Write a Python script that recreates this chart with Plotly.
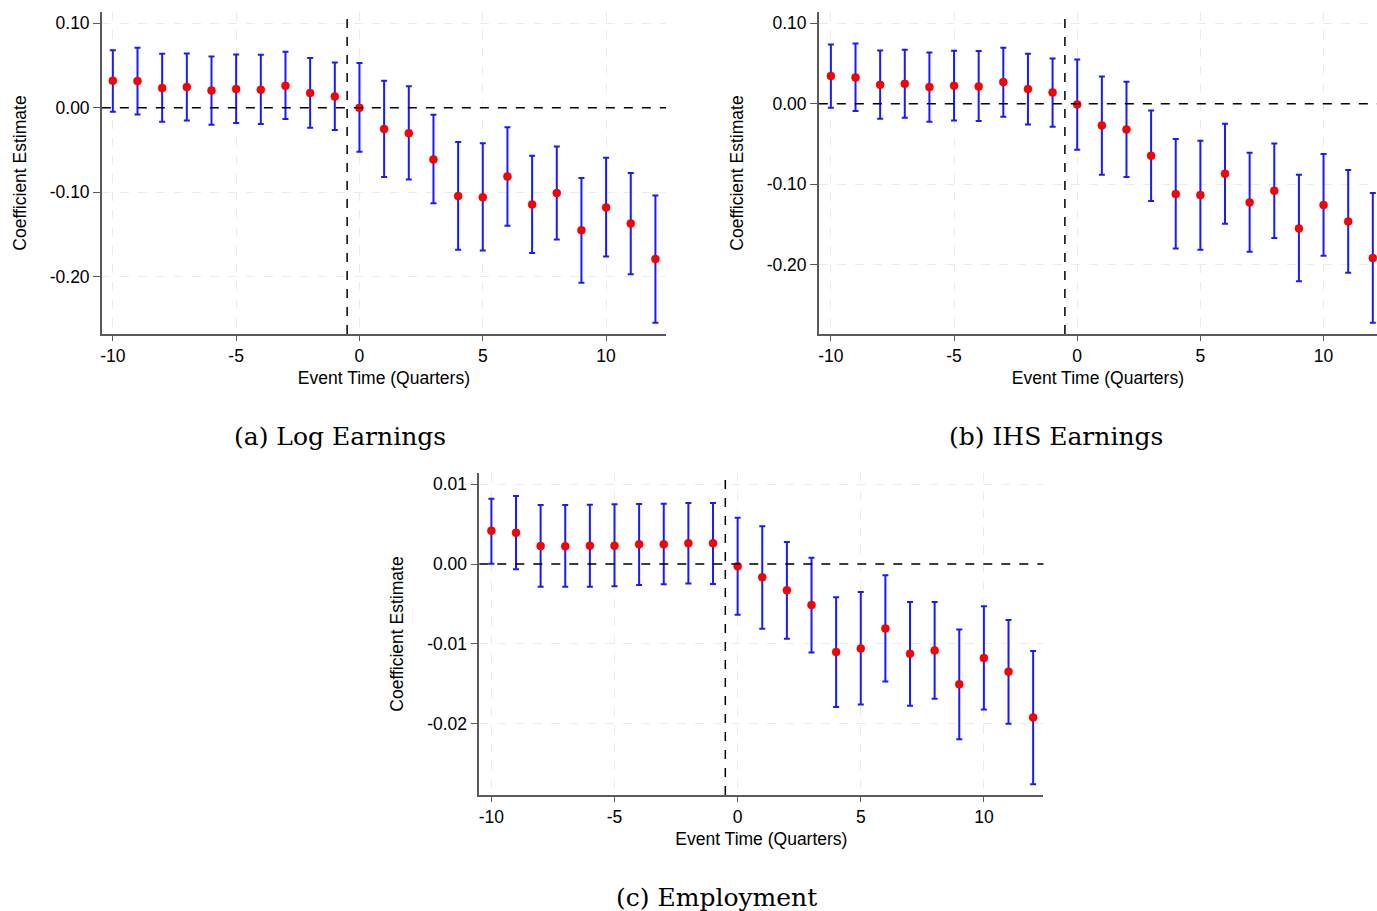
import plotly.graph_objects as go

event_time = list(range(-10, 13))

# (a) Log Earnings
a_coef = [0.032, 0.0316, 0.0233, 0.0245, 0.0205, 0.0221, 0.0213, 0.026, 0.0174, 0.0134, 0.0,
          -0.0252, -0.030, -0.0611, -0.1045, -0.106, -0.0813, -0.1144, -0.101, -0.145, -0.118, -0.137, -0.179]
a_hi = [0.068, 0.071, 0.064, 0.0643, 0.0607, 0.0631, 0.0627, 0.0663, 0.0588, 0.0536, 0.053,
        0.032, 0.0256, -0.0083, -0.0406, -0.042, -0.0229, -0.0568, -0.0458, -0.0832, -0.0592, -0.0773, -0.1037]
a_lo = [-0.0047, -0.0079, -0.0166, -0.015, -0.0201, -0.0181, -0.0193, -0.0134, -0.0237, -0.0264, -0.052,
        -0.082, -0.085, -0.113, -0.168, -0.169, -0.1396, -0.172, -0.156, -0.207, -0.176, -0.197, -0.2544]

# (b) IHS Earnings
b_coef = [0.0344, 0.0327, 0.0236, 0.0248, 0.0207, 0.0224, 0.0215, 0.0269, 0.0182, 0.0141, -0.0008,
          -0.0269, -0.0319, -0.0646, -0.1122, -0.1135, -0.087, -0.1226, -0.108, -0.1549, -0.1259, -0.1462, -0.1917]
b_hi = [0.0737, 0.075, 0.0663, 0.0671, 0.0638, 0.0658, 0.0654, 0.0696, 0.0621, 0.0563, 0.0551,
        0.034, 0.0273, -0.0083, -0.0439, -0.046, -0.0248, -0.0609, -0.0493, -0.0882, -0.0625, -0.0824, -0.111]
b_lo = [-0.005, -0.0091, -0.0186, -0.0174, -0.0224, -0.0207, -0.0215, -0.0161, -0.0257, -0.0286, -0.0571,
        -0.0882, -0.0911, -0.1209, -0.180, -0.1814, -0.149, -0.1839, -0.1669, -0.2207, -0.1888, -0.2099, -0.272]

# (c) Employment
c_coef = [0.00418, 0.00393, 0.00226, 0.00222, 0.0023, 0.0023, 0.00247, 0.00247, 0.0026, 0.0026, -0.00029,
          -0.00167, -0.0033, -0.00515, -0.01105, -0.01059, -0.00808, -0.01126, -0.01084, -0.0151, -0.0118, -0.01351, -0.01925]
c_hi = [0.0082, 0.00854, 0.0074, 0.0074, 0.00745, 0.00749, 0.00753, 0.00757, 0.00766, 0.00766, 0.00582,
        0.00473, 0.00276, 0.0008, -0.00418, -0.0035, -0.00142, -0.00477, -0.00477, -0.0082, -0.00531, -0.00703, -0.01092]
c_lo = [0.00004, -0.00067, -0.00285, -0.00285, -0.00285, -0.0028, -0.00264, -0.00255, -0.00243, -0.00251, -0.00636,
        -0.00812, -0.00937, -0.0111, -0.01795, -0.01761, -0.01473, -0.01778, -0.0169, -0.022, -0.01824, -0.02004, -0.02762]

x_ticks = [-10, -5, 0, 5, 10]
x_ticktext = ["-10", "-5", "0", "5", "10"]
ab_ticks = [0.10, 0.0, -0.10, -0.20]
ab_ticktext = ["0.10", "0.00", "-0.10", "-0.20"]
c_ticks = [0.01, 0.0, -0.01, -0.02]
c_ticktext = ["0.01", "0.00", "-0.01", "-0.02"]
captions = ["(a) Log Earnings", "(b) IHS Earnings", "(c) Employment"]

W, H = 1377, 911
panels = [
    dict(c=a_coef, hi=a_hi, lo=a_lo, px=(100, 665), py=(12, 334), xr=[-10.445, 12.43], yr=[-0.2678, 0.1134],
         yt=ab_ticks, ytt=ab_ticktext, cap=(338, 436)),
    dict(c=b_coef, hi=b_hi, lo=b_lo, px=(818, 1377), py=(12, 334), xr=[-10.49, 12.17], yr=[-0.2861, 0.114],
         yt=ab_ticks, ytt=ab_ticktext, cap=(1056, 436)),
    dict(c=c_coef, hi=c_hi, lo=c_lo, px=(478, 1043), py=(473, 795), xr=[-10.49, 12.42], yr=[-0.02898, 0.01142],
         yt=c_ticks, ytt=c_ticktext, cap=(716, 897)),
]

fig = go.Figure()
font_sans = "Liberation Sans, Arial, sans-serif"
layout_axes = {}
shapes = []
annotations = []
for i, p in enumerate(panels):
    n = "" if i == 0 else str(i + 1)
    xa, ya = "x" + n, "y" + n
    up = [h - c for h, c in zip(p["hi"], p["c"])]
    dn = [c - l for c, l in zip(p["c"], p["lo"])]
    fig.add_trace(go.Scatter(
        x=event_time, y=p["c"], mode="markers", xaxis=xa, yaxis=ya,
        marker=dict(color="#ff0000", size=8, line=dict(width=0.5, color="#cc0000")),
        error_y=dict(type="data", array=up, arrayminus=dn, color="#1a1aff", thickness=2, width=3),
        showlegend=False, hoverinfo="skip"))
    x0, x1 = p["px"][0] / W, p["px"][1] / W
    y0, y1 = 1 - p["py"][1] / H, 1 - p["py"][0] / H
    common = dict(showline=True, linecolor="#5a5a5a", linewidth=1.5, ticks="outside",
                  tickcolor="#5a5a5a", tickwidth=1.2, showgrid=True, gridcolor="#ebebeb", griddash="dash",
                  gridwidth=1, zeroline=False, tickfont=dict(family=font_sans, size=17.5, color="#000000"),
                  title_font=dict(family=font_sans, size=17.5, color="#000000"))
    layout_axes["xaxis" + n] = dict(domain=[x0, x1], anchor=ya, range=p["xr"], tickvals=x_ticks,
                                    ticktext=x_ticktext, ticklen=5,
                                    title=dict(text="Event Time (Quarters)", standoff=7), **common)
    layout_axes["yaxis" + n] = dict(domain=[y0, y1], anchor=xa, range=p["yr"], tickvals=p["yt"],
                                    ticktext=p["ytt"], ticklen=7,
                                    title=dict(text="Coefficient Estimate", standoff=19), **common)
    shapes.append(dict(type="line", xref=xa + " domain", yref=ya, x0=0, x1=1, y0=0, y1=0,
                       line=dict(color="black", width=1.5, dash="dash"), layer="above"))
    shapes.append(dict(type="line", xref=xa, yref=ya + " domain", x0=-0.5, x1=-0.5, y0=0, y1=1,
                       line=dict(color="black", width=1.5, dash="dash"), layer="above"))
    annotations.append(dict(text=captions[i], x=p["cap"][0] / W, y=1 - p["cap"][1] / H, xref="paper", yref="paper",
                            showarrow=False, xanchor="center", yanchor="middle",
                            font=dict(family="DejaVu Serif, Liberation Serif, serif", size=25, color="#000000")))

fig.update_layout(width=W, height=H, margin=dict(l=0, r=0, t=0, b=0), plot_bgcolor="white",
                  paper_bgcolor="white", shapes=shapes, annotations=annotations, **layout_axes)
fig.write_html("out.html")
